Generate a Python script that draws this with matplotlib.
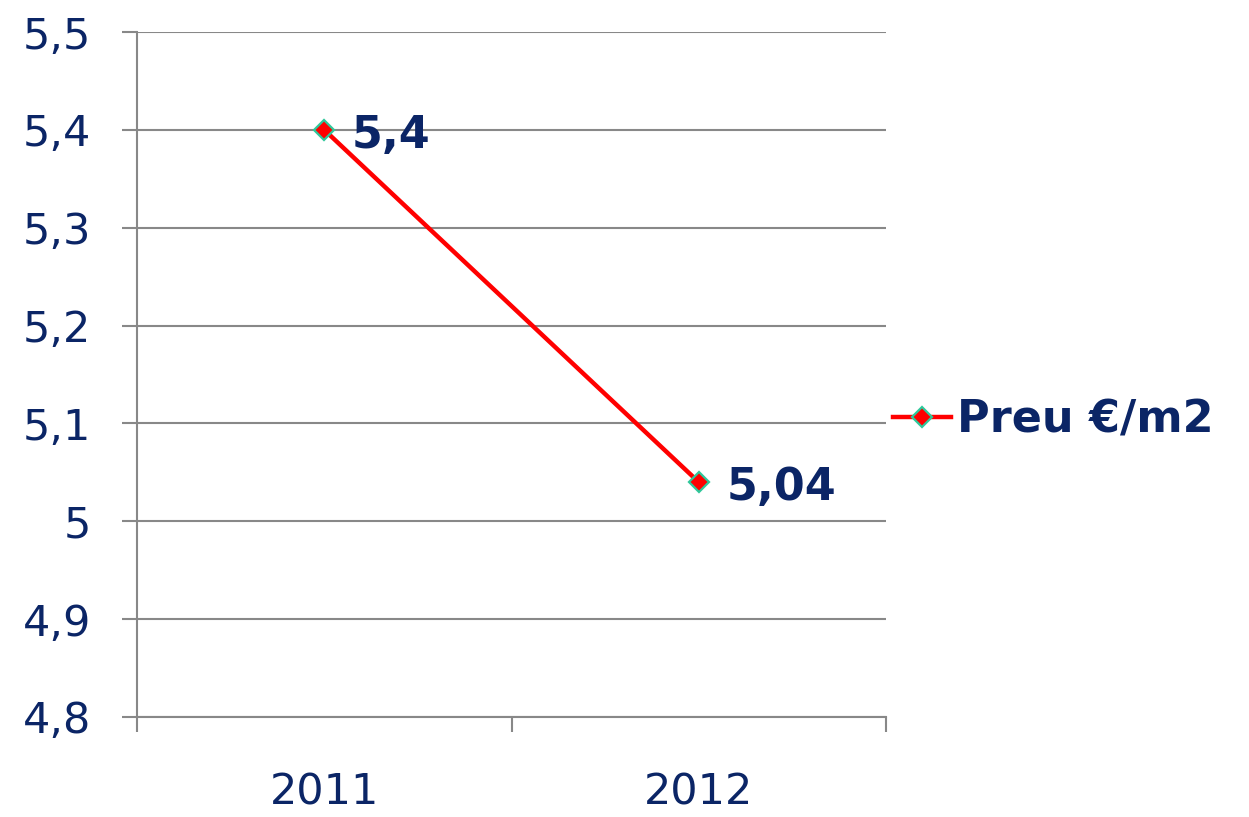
import matplotlib.pyplot as plt

years = ['2011', '2012']
prices = [5.4, 5.04]
price_labels = ['5,4', '5,04']
y_ticks = [4.8, 4.9, 5.0, 5.1, 5.2, 5.3, 5.4, 5.5]
y_tick_labels = ['4,8', '4,9', '5', '5,1', '5,2', '5,3', '5,4', '5,5']
series_name = 'Preu €/m2'

navy = '#0b2566'
grey = '#888888'

plt.rcParams['font.family'] = ['DejaVu Sans']

fig = plt.figure(figsize=(12.49, 8.17), dpi=100)
ax = fig.add_axes([137 / 1249, 1 - 717 / 817, (886 - 137) / 1249, (717 - 32) / 817])

x = [i + 0.5 for i in range(len(years))]
line, = ax.plot(x, prices, color='#ff0000', linewidth=3.2, marker='D', markersize=10,
                markerfacecolor='#ff0000', markeredgecolor='#2fc79a', markeredgewidth=1.6,
                label=series_name, zorder=3)

for xi, yi, lbl in zip(x, prices, price_labels):
    ax.annotate(lbl, (xi, yi), xytext=(20, -4), textcoords='offset points',
                ha='left', va='center', fontsize=32, fontweight='bold', color=navy)

ax.set_xlim(0, len(years))
ax.set_ylim(4.8, 5.5)
ax.set_yticks(y_ticks)
ax.set_yticklabels(y_tick_labels)
ax.set_xticks(range(len(years) + 1))
ax.set_xticklabels([])
ax.set_xticks(x, minor=True)
ax.set_xticklabels(years, minor=True)

ax.tick_params(axis='y', which='major', length=11, width=1.5, color=grey,
               labelsize=31, labelcolor=navy, pad=22)
ax.tick_params(axis='x', which='major', length=11, width=1.5, color=grey)
ax.tick_params(axis='x', which='minor', length=0, labelsize=31, labelcolor=navy, pad=39)

ax.grid(axis='y', color=grey, linewidth=1.5)
ax.set_axisbelow(True)
for side in ['top', 'right']:
    ax.spines[side].set_visible(False)
for side in ['left', 'bottom']:
    ax.spines[side].set_color(grey)
    ax.spines[side].set_linewidth(1.5)

fig.legend(handles=[line], loc='center left', bbox_to_anchor=(893 / 1249, 1 - 420 / 817),
           frameon=False, handlelength=1.3, handletextpad=0.15, borderpad=0,
           borderaxespad=0, prop={'size': 32, 'weight': 'bold'}, labelcolor=navy)

fig.savefig('out.png', dpi=100)
